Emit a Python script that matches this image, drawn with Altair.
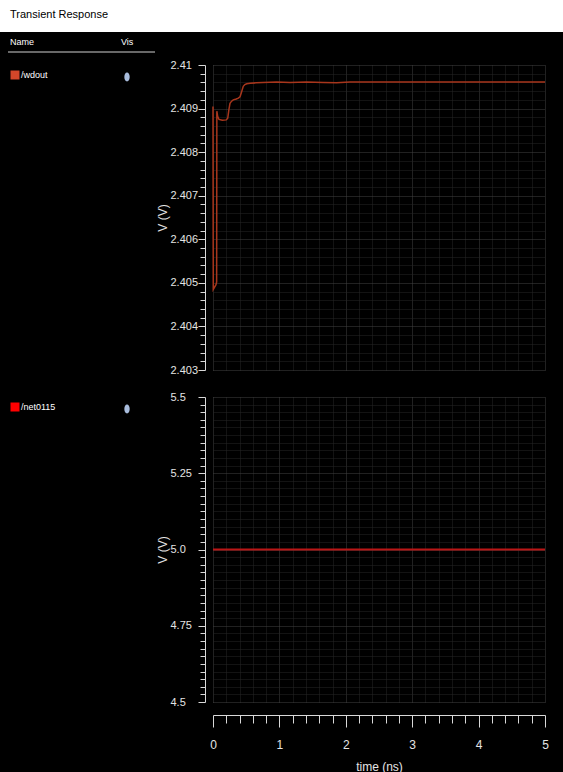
import altair as alt
import pandas as pd

# /wdout transient trace: time (ns) and voltage (V)
wdout_t = [0.0, 0.004, 0.045, 0.055, 0.058, 0.07, 0.09, 0.14, 0.2, 0.222, 0.24, 0.256,
           0.28, 0.306, 0.35, 0.381, 0.407, 0.43, 0.456, 0.48, 0.508, 0.56, 0.65, 0.75,
           0.96, 1.16, 1.41, 1.66, 1.86, 2.06, 2.5, 3.0, 3.5, 4.0, 4.5, 5.0]
wdout_v = [2.40905, 2.40485, 2.40496, 2.40502, 2.40894, 2.40882, 2.40875, 2.40873,
           2.40874, 2.40878, 2.40898, 2.40912, 2.40917, 2.40920, 2.40922, 2.40924,
           2.40927, 2.40938, 2.40951, 2.40955, 2.40957, 2.40958, 2.40959, 2.40960,
           2.40961, 2.40960, 2.40961, 2.40960, 2.40959, 2.40961, 2.40961, 2.40961,
           2.40961, 2.40961, 2.40961, 2.40961]

# /net0115 trace
net_t = [0.0, 5.0]
net_v = [5.0, 5.0]

signal_names = ["/wdout", "/net0115"]
swatch_colors = ["#d2472a", "#ff0000"]
trace_colors = ["#a8361c", "#bb1616"]

x_domain = [0, 5]
top_domain = [2.403, 2.41]
bottom_domain = [4.5, 5.5]

x_ticks = [round(i * 0.2, 1) for i in range(26)]
top_ticks = [round(2.403 + i * 0.0002, 4) for i in range(36)]
bottom_ticks = [round(4.5 + i * 0.025, 3) for i in range(41)]

FONT = "Liberation Sans Narrow, Liberation Sans, sans-serif"
AXIS_GRAY = "#d8d8d8"
LABEL_GRAY = "#e4e4e4"
GRID_MAJOR = "#424242"
GRID_MINOR = "#262626"

major_x = "abs(datum.value - round(datum.value)) < 0.01"
major_top = "abs(datum.value * 1000 - round(datum.value * 1000)) < 0.01"
major_bottom = "abs(datum.value * 4 - round(datum.value * 4)) < 0.01"


def cond(test, a, b):
    return {"condition": {"test": test, "value": a}, "value": b}


def grid_x_axis():
    return alt.Axis(values=x_ticks, labels=False, ticks=False, domain=False, title=None,
                    grid=True, gridDash=[1, 1],
                    gridColor=cond(major_x, GRID_MAJOR, GRID_MINOR))


def y_axis(ticks, test, label_expr):
    return alt.Axis(values=ticks, labelExpr=label_expr, labelOverlap=False,
                    offset=8, grid=True, gridDash=[1, 1],
                    gridColor=cond(test, GRID_MAJOR, GRID_MINOR),
                    domainColor=AXIS_GRAY, tickColor=AXIS_GRAY,
                    tickSize=cond(test, 7, 5), labelAlign="left", labelPadding=28,
                    labelColor=LABEL_GRAY, labelFont=FONT, labelFontSize=11,
                    title="V (V)", titleColor=LABEL_GRAY, titleFont=FONT,
                    titleFontSize=12, titleFontWeight="normal", titleX=-43,
                    titleBaseline="middle", labelFlush=False)


bottom_x_axis = alt.Axis(values=x_ticks, labelExpr=f"{major_x} ? format(datum.value, 'd') : ''",
                         labelOverlap=False, labelFlush=False, offset=13,
                         grid=True, gridDash=[1, 1],
                         gridColor=cond(major_x, GRID_MAJOR, GRID_MINOR),
                         domainColor=AXIS_GRAY, tickColor=AXIS_GRAY,
                         tickSize=cond(major_x, 12, 8), labelPadding=12,
                         labelColor=LABEL_GRAY, labelFont=FONT, labelFontSize=12,
                         title="time (ns)", titleColor=LABEL_GRAY, titleFont=FONT,
                         titleFontSize=12, titleFontWeight="normal", titlePadding=11)

one = alt.Data(values=[{}])


def legend_layers(idx):
    row = pd.DataFrame({"name": [signal_names[idx]]})
    swatch = alt.Chart(row).mark_square(size=81, color=swatch_colors[idx], opacity=1).encode(
        x=alt.value(-198), y=alt.value(10))
    label = alt.Chart(row).mark_text(align="left", baseline="middle", color="white",
                                     font=FONT, fontSize=9).encode(
        x=alt.value(-192), y=alt.value(10), text="name:N")
    vis = alt.Chart(row).mark_point(
        shape="M-0.6,0A0.6,1 0 1,0 0.6,0A0.6,1 0 1,0 -0.6,0Z",
        filled=True, size=80, color="#a8bcdc", opacity=1).encode(
        x=alt.value(-86), y=alt.value(12))
    return [swatch, label, vis]


# panel header: white title band, column names and separator
band = alt.Chart(one).mark_rect(color="white").encode(
    x=alt.value(-213), x2=alt.value(350), y=alt.value(-65), y2=alt.value(-33))
title_txt = alt.Chart(one).mark_text(align="left", baseline="middle", color="black",
                                     font=FONT, fontSize=11).encode(
    x=alt.value(-203), y=alt.value(-50), text=alt.value("Transient Response"))
name_hdr = alt.Chart(one).mark_text(align="left", baseline="middle", color="white",
                                    font=FONT, fontSize=9).encode(
    x=alt.value(-203), y=alt.value(-23), text=alt.value("Name"))
vis_hdr = alt.Chart(one).mark_text(align="left", baseline="middle", color="white",
                                   font=FONT, fontSize=9).encode(
    x=alt.value(-92), y=alt.value(-23), text=alt.value("Vis"))
sep = alt.Chart(one).mark_rule(color="#d0d0d0", strokeWidth=1).encode(
    x=alt.value(-205), x2=alt.value(-58), y=alt.value(-13))

wdout_df = pd.DataFrame({"t": wdout_t, "v": wdout_v})
net_df = pd.DataFrame({"t": net_t, "v": net_v})

top_line = alt.Chart(wdout_df).mark_line(color=trace_colors[0], strokeWidth=1.5).encode(
    x=alt.X("t:Q", scale=alt.Scale(domain=x_domain, nice=False, zero=False), axis=grid_x_axis()),
    y=alt.Y("v:Q", scale=alt.Scale(domain=top_domain, nice=False, zero=False),
            axis=y_axis(top_ticks, major_top,
                        f"{major_top} ? format(datum.value, '.3~f') : ''")))

bottom_line = alt.Chart(net_df).mark_line(color=trace_colors[1], strokeWidth=2).encode(
    x=alt.X("t:Q", scale=alt.Scale(domain=x_domain, nice=False, zero=False), axis=bottom_x_axis),
    y=alt.Y("v:Q", scale=alt.Scale(domain=bottom_domain, nice=False, zero=False),
            axis=y_axis(bottom_ticks, major_bottom,
                        f"{major_bottom} ? (datum.value === 5 ? '5.0' : format(datum.value, '.2~f')) : ''")))

top = alt.layer(band, title_txt, name_hdr, vis_hdr, sep, top_line,
                *legend_layers(0)).properties(width=332, height=305)
bottom = alt.layer(bottom_line, *legend_layers(1)).properties(width=332, height=305)

chart = alt.vconcat(top, bottom, spacing=27, bounds="flush").properties(
    padding=0, background="black"
).configure_view(stroke=None, fill="black")

chart.save("out.html", embed_options={"renderer": "svg", "actions": False})
